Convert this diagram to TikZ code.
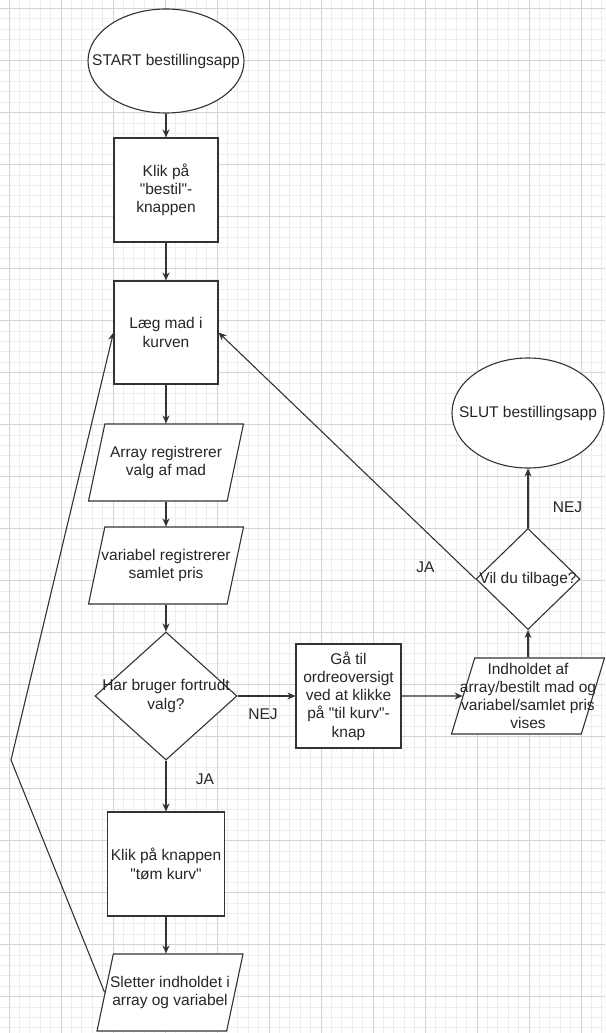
\documentclass[tikz,border=0pt]{standalone}
\usepackage{fontspec}
\setmainfont{Liberation Sans}[Ligatures=TeXOff]
\usetikzlibrary{shapes.geometric,arrows.meta}

\begin{document}
\begin{tikzpicture}[x=1pt,y=-1pt,
    font=\fontsize{15.5}{18.3}\selectfont,
    box/.style={draw=black!80, line width=1.1pt, fill=white, align=center, inner sep=0pt, text=black!85},
    proc/.style={box, rectangle, minimum width=104pt, minimum height=104pt},
    term/.style={box, ellipse},
    io/.style={box, trapezium, trapezium stretches body, trapezium left angle=78, trapezium right angle=102},
    choice/.style={box, diamond},
    txt/.style={align=center, text=black!85},
    flow/.style={draw=black!80, line width=1.1pt, -{Stealth[length=8pt,width=7pt]}}]
    \useasboundingbox (0,0) rectangle (605,1033);
    % Grid
    \foreach \k in {0,...,58}
        \draw[black!7, line width=0.8pt] (-1.4+\k*10.4,0) -- (-1.4+\k*10.4,1033);
    \foreach \k in {0,...,99}
        \draw[black!7, line width=0.8pt] (0,-1.9+\k*10.4) -- (605,-1.9+\k*10.4);
    \foreach \k in {0,...,11}
        \draw[black!17, line width=0.9pt] (9+\k*52,0) -- (9+\k*52,1033);
    \foreach \k in {0,...,19}
        \draw[black!17, line width=0.9pt] (0,8.5+\k*52) -- (605,8.5+\k*52);
    % Left column
    \node[term, minimum width=156pt, minimum height=104pt, label={[txt]center:START bestillingsapp}] (start) at (166,61) {};
    \node[proc] (bestil) at (166,190) {Klik på\\"bestil"-\\knappen};
    \node[proc, minimum height=103pt] (kurv) at (166,332.5) {Læg mad i\\kurven};
    \node[io, minimum width=155pt, label={[txt]center:{Array registrerer\\valg af mad}}] (array) at (166,462.5) {\rule{0pt}{77pt}};
    \node[io, minimum width=155pt, label={[txt]center:{variabel registrerer\\samlet pris}}] (pris) at (166,565.5) {\rule{0pt}{77pt}};
    \node[choice, minimum width=142pt, minimum height=128pt, label={[txt]center:{Har bruger fortrudt\\valg?}}] (fortrudt) at (166,696) {};
    \node[proc, minimum width=117pt] (toem) at (166,864) {Klik på knappen\\"tøm kurv"};
    \node[io, minimum width=146pt, label={[txt]center:{Sletter indholdet i\\array og variabel}}] (slet) at (170,992.5) {\rule{0pt}{77pt}};
    % Right part
    \node[proc, minimum width=105pt] (ordre) at (348.5,696) {Gå til\\ordreoversigt\\ved at klikke\\på "til kurv"-\\knap};
    \node[io, minimum width=153pt, trapezium left angle=73, trapezium right angle=107, label={[txt]center:{Indholdet af\\array/bestilt mad og\\variabel/samlet pris\\vises}}] (vises) at (528,696) {\rule{0pt}{76pt}};
    \node[choice, minimum width=104pt, minimum height=101pt, label={[txt]center:Vil du tilbage?}] (tilbage) at (528,579) {};
    \node[term, minimum width=152pt, minimum height=110pt, label={[txt]center:SLUT bestillingsapp}] (slut) at (528,413) {};
    \coordinate (knaek) at (11,760);
    % Labels
    \node[txt] (nej1) at (263,714) {NEJ};
    \node[txt] (ja1) at (205,779.5) {JA};
    \node[txt] (nej2) at (567.5,507.5) {NEJ};
    \node[txt] (ja2) at (425.5,567) {JA};
    % Arrows
    \draw[flow] (start) -- (bestil);
    \draw[flow] (bestil) -- (kurv);
    \draw[flow] (kurv) -- (array);
    \draw[flow] (array) -- (pris);
    \draw[flow] (pris) -- (fortrudt);
    \draw[flow] (fortrudt) -- (ordre);
    \draw[flow] (ordre) -- (vises);
    \draw[flow] (vises) -- (tilbage);
    \draw[flow] (tilbage) -- (slut);
    \draw[flow] (tilbage.west) -- (kurv.east);
    \draw[flow] (fortrudt) -- (toem);
    \draw[flow] (toem) -- (toem |- slet.north);
    % Back to the basket
    \draw[flow] (slet.west) -- (knaek) -- (kurv.west);
\end{tikzpicture}
\end{document}
